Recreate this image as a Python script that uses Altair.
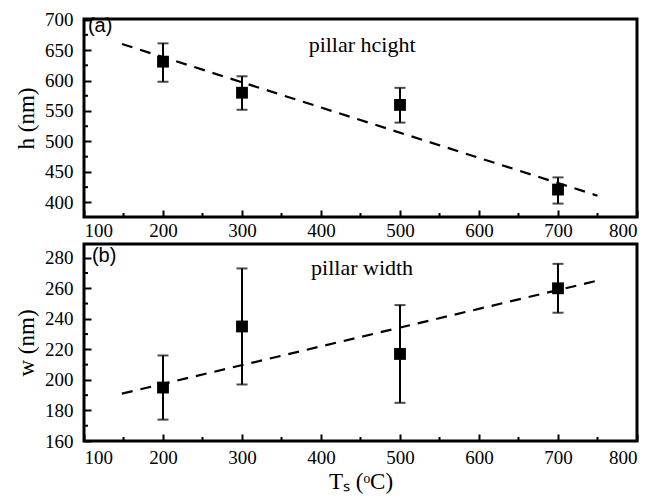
import altair as alt
import pandas as pd

ts = [200, 300, 500, 700]
h_val = [631, 580, 560, 421]
h_lo = [598, 552, 531, 398]
h_hi = [661, 607, 588, 441]
w_val = [195, 235, 217, 260]
w_lo = [174, 197, 185, 244]
w_hi = [216, 273, 249, 276]
fit_x = [148, 750]
h_fit = [660, 411]
w_fit = [191, 265]
x_major = [100, 200, 300, 400, 500, 600, 700, 800]
x_minor = [150, 250, 350, 450, 550, 650, 750]
h_major = [400, 450, 500, 550, 600, 650, 700]
h_minor = [425, 475, 525, 575, 625, 675]
w_major = [160, 180, 200, 220, 240, 260, 280]
w_minor = [170, 190, 210, 230, 250, 270]

SERIF = "Liberation Serif"
W = 553
MAJ = 7
MINOR = 4


def panel(vals, lo, hi, fit, ydomain, ymajor, yminor, ytitle, tag, tag_x, tag_y,
          note, note_x, note_y, xtitle, H, xpad):
    xscale = alt.Scale(domain=[100, 800], nice=False, zero=False)
    yscale = alt.Scale(domain=ydomain, nice=False, zero=False)
    common = dict(labelFont=SERIF, labelFontSize=19, labelColor="black",
                  titleFont=SERIF, titleFontSize=23, titleFontWeight="normal",
                  titleColor="black", tickColor="black", tickWidth=2)
    xaxis = alt.Axis(values=x_major, tickSize=MAJ, offset=-MAJ, domain=False, grid=False,
                     labelPadding=xpad, titlePadding=3, **common)
    yaxis = alt.Axis(values=ymajor, tickSize=MAJ, offset=-MAJ, domain=False, grid=False,
                     labelPadding=11, titlePadding=6, **common)
    X = alt.X("T:Q", scale=xscale, axis=xaxis, title=xtitle)
    Y = alt.Y("v:Q", scale=yscale, axis=yaxis, title=ytitle)

    df = pd.DataFrame({"T": ts, "v": vals, "lo": lo, "hi": hi})
    fitdf = pd.DataFrame({"T": fit_x, "v": fit})

    line = alt.Chart(fitdf).mark_line(color="black", strokeWidth=2.2,
                                      strokeDash=[11, 8]).encode(x=X, y=Y)
    bars = alt.Chart(df).mark_rule(color="black", strokeWidth=2).encode(
        x=X, y=alt.Y("lo:Q", scale=yscale, axis=yaxis, title=ytitle), y2="hi:Q")
    cap_lo = alt.Chart(df).mark_tick(color="black", orient="horizontal", size=11,
                                     thickness=2).encode(
        x=X, y=alt.Y("lo:Q", scale=yscale, axis=yaxis, title=ytitle))
    cap_hi = alt.Chart(df).mark_tick(color="black", orient="horizontal", size=11,
                                     thickness=2).encode(
        x=X, y=alt.Y("hi:Q", scale=yscale, axis=yaxis, title=ytitle))
    pts = alt.Chart(df).mark_square(color="black", size=140, opacity=1).encode(x=X, y=Y)

    xmin = alt.Chart(pd.DataFrame({"T": x_minor})).mark_rule(
        color="black", strokeWidth=2).encode(x=X, y=alt.value(H), y2=alt.value(H - MINOR))
    ymin = alt.Chart(pd.DataFrame({"v": yminor})).mark_rule(
        color="black", strokeWidth=2).encode(y=Y, x=alt.value(0), x2=alt.value(MINOR))

    tagt = alt.Chart(pd.DataFrame({"T": [tag_x], "v": [tag_y], "t": [tag]})).mark_text(
        align="left", baseline="middle", font="Liberation Sans", fontSize=20,
        color="black").encode(x=X, y=Y, text="t:N")
    notet = alt.Chart(pd.DataFrame({"T": [note_x], "v": [note_y], "t": [note]})).mark_text(
        align="center", baseline="middle", font=SERIF, fontSize=22,
        color="black").encode(x=X, y=Y, text="t:N")

    return alt.layer(line, bars, cap_lo, cap_hi, pts, xmin, ymin, tagt, notet).properties(
        width=W, height=H)


top = panel(h_val, h_lo, h_hi, h_fit, [376, 701], h_major, h_minor, "h (nm)",
            "(a)", 105, 689, "pillar hcight", 452, 658, None, 198, 4)
bottom = panel(w_val, w_lo, w_hi, w_fit, [160, 289], w_major, w_minor, "w (nm)",
               "(b)", 110, 281, "pillar width", 452, 273, "Tₛ (ᵒC)", 197, 7)

chart = alt.vconcat(top, bottom, spacing=0).properties(
    padding={"top": 1, "left": 6, "right": 5, "bottom": 0},
    background="white",
).configure_view(
    stroke="black", strokeWidth=3
).configure_axis(
    labelFont=SERIF, labelFontSize=19, labelColor="black",
    tickColor="black", tickWidth=2,
    titleFont=SERIF, titleFontSize=23, titleFontWeight="normal", titleColor="black",
)

chart.save("out.html", embed_options={"renderer": "svg", "actions": False})
